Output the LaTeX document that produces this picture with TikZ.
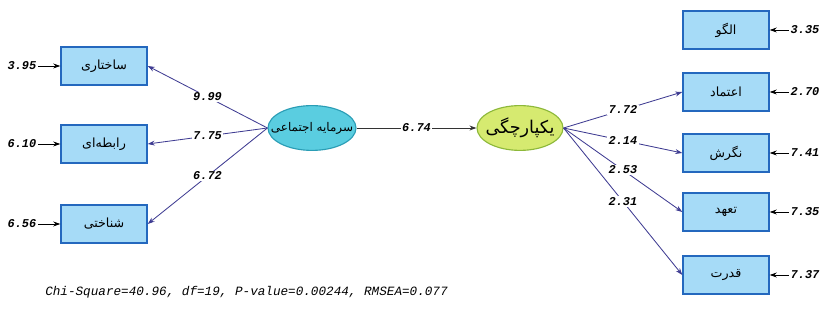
\documentclass[tikz,border=0pt]{standalone}
\usepackage{fontspec}
\setmonofont{Liberation Mono}
\newfontfamily\farsi[Script=Arabic]{DejaVu Sans}
\TeXXeTstate=1
\usepackage{tikz}
\usetikzlibrary{shapes.geometric,arrows.meta}

\definecolor{boxfill}{HTML}{A6DBF7}
\definecolor{boxline}{HTML}{2468BE}
\definecolor{pathline}{HTML}{3F3C92}
\definecolor{cyanfill}{HTML}{5ACDE0}
\definecolor{cyanline}{HTML}{2A9DB5}
\definecolor{limefill}{HTML}{D6EA70}
\definecolor{limeline}{HTML}{8DB83A}

\newcommand{\fa}[1]{{\farsi\beginR #1\endR}}

\tikzset{
  obsbox/.style={draw=boxline, line width=1pt, fill=boxfill, minimum width=21.5mm, minimum height=9.5mm, inner sep=0pt, font=\fontsize{9}{10}\selectfont},
  latent/.style={ellipse, draw=#1line, line width=0.8pt, fill=#1fill, minimum width=22mm, minimum height=11.2mm, inner sep=0pt},
  num/.style={font=\fontsize{8.5}{9}\selectfont\ttfamily\itshape\bfseries, inner sep=1pt},
  coef/.style={num, fill=white, midway},
  path/.style={draw=pathline, line width=0.6pt, -{Stealth[length=5pt,width=3.5pt]}}
}

\begin{document}
\begin{tikzpicture}[x=0.25mm, y=-0.25mm, >=stealth]
  \useasboundingbox (0,0) rectangle (824,329);
  % observed variables, left
  \node[obsbox] (B1) at (104,66) {\fa{ساختاری}};
  \node[obsbox] (B2) at (104,144) {\fa{رابطه‌ای}};
  \node[obsbox] (B3) at (104,224) {\fa{شناختی}};
  % latent variables
  \node[latent=cyan] (L1) at (312,128) {\makebox[0pt]{\fontsize{8.5}{9}\selectfont\fa{سرمایه اجتماعی}}};
  \node[latent=lime, minimum width=21.5mm] (L2) at (520,128) {\makebox[0pt]{\fontsize{12.5}{13}\selectfont\fa{یکپارچگی}}};
  % observed variables, right
  \node[obsbox] (R1) at (726,30) {\fa{الگو}};
  \node[obsbox] (R2) at (726,92) {\fa{اعتماد}};
  \node[obsbox] (R3) at (726,153) {\fa{نگرش}};
  \node[obsbox] (R4) at (726,212) {\fa{تعهد}};
  \node[obsbox] (R5) at (726,275) {\fa{قدرت}};
  % error terms
  \node[num] (E1) at (22,66) {3.95};
  \node[num] (E2) at (22,144) {6.10};
  \node[num] (E3) at (22,224) {6.56};
  \node[num] (E4) at (805,30) {3.35};
  \node[num] (E5) at (805,92) {2.70};
  \node[num] (E6) at (805,153) {7.41};
  \node[num] (E7) at (805,212) {7.35};
  \node[num] (E8) at (805,275) {7.37};
  \foreach \e/\b in {E1/B1,E2/B2,E3/B3,E4/R1,E5/R2,E6/R3,E7/R4,E8/R5}
    \draw[path, draw=black] (\e) -- (\b);
  % paths
  \draw[path] (L1.west) -- node[coef] {9.99} (B1.east);
  \draw[path] (L1.west) -- node[coef] {7.75} (B2.east);
  \draw[path] (L1.west) -- node[coef] {6.72} (B3.east);
  \draw[path, draw=black!80] (L1) -- node[coef] {6.74} (L2);
  \draw[path] (L2.east) -- node[coef] {7.72} (R2.west);
  \draw[path] (L2.east) -- node[coef] {2.14} (R3.west);
  \draw[path] (L2.east) -- node[coef] {2.53} (R4.west);
  \draw[path] (L2.east) -- node[coef] {2.31} (R5.west);
  % fit indices
  \node[anchor=west, font=\fontsize{9}{10}\selectfont\ttfamily\itshape, inner sep=0pt] (fit) at (45,292)
    {Chi-Square=40.96, df=19, P-value=0.00244, RMSEA=0.077};
\end{tikzpicture}
\end{document}
